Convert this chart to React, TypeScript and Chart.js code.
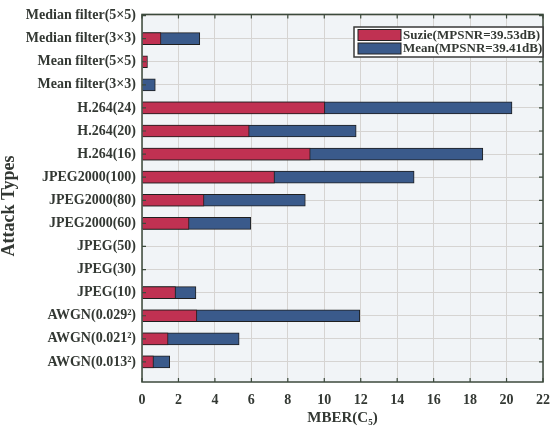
import { useEffect, useRef } from "react";
import { Chart, registerables } from "chart.js";

Chart.register(...registerables);

// Attack types, listed top to bottom
const attackTypes = [
  "Median filter(5×5)",
  "Median filter(3×3)",
  "Mean filter(5×5)",
  "Mean filter(3×3)",
  "H.264(24)",
  "H.264(20)",
  "H.264(16)",
  "JPEG2000(100)",
  "JPEG2000(80)",
  "JPEG2000(60)",
  "JPEG(50)",
  "JPEG(30)",
  "JPEG(10)",
  "AWGN(0.029²)",
  "AWGN(0.021²)",
  "AWGN(0.013²)",
];

// MBER(C5) per attack for the Suzie sequence
const suzieMber = [0, 1.04, 0.3, 0, 10.03, 5.88, 9.23, 7.27, 3.4, 2.58, 0, 0, 1.84, 3.01, 1.43, 0.63];
// Mean MBER(C5) over all sequences
const meanMber = [0, 3.17, 0, 0.73, 20.3, 11.75, 18.7, 14.93, 8.96, 5.97, 0, 0, 2.96, 11.95, 5.33, 1.52];

const xTicks = [0, 2, 4, 6, 8, 10, 12, 14, 16, 18, 20, 22];

const suzieLabel = "Suzie(MPSNR=39.53dB)";
const meanLabel = "Mean(MPSNR=39.41dB)";
const xTitle = "MBER(C₅)";
const yTitle = "Attack Types";

const RED = "#c03152";
const BLUE = "#3a5a8b";
const FRAME = "#3c4a3c";
const TEXT = "#333833";
const SERIF = "'Liberation Serif', 'Times New Roman', serif";

const plotFrame = {
  id: "plotFrame",
  beforeDatasetsDraw(chart: any) {
    const { ctx, chartArea } = chart;
    ctx.save();
    ctx.fillStyle = "#f1f4f7";
    ctx.globalCompositeOperation = "destination-over";
    ctx.fillRect(chartArea.left, chartArea.top, chartArea.right - chartArea.left, chartArea.bottom - chartArea.top);
    ctx.restore();
  },
  afterDraw(chart: any) {
    const { ctx, chartArea, scales } = chart;
    const { left, right, top, bottom } = chartArea;
    ctx.save();
    ctx.strokeStyle = FRAME;
    ctx.lineWidth = 1.5;
    ctx.strokeRect(left, top, right - left, bottom - top);
    // inward tick marks on all four sides
    ctx.lineWidth = 1.2;
    const t = 4;
    ctx.beginPath();
    xTicks.forEach((v) => {
      const x = scales.x.getPixelForValue(v);
      ctx.moveTo(x, bottom);
      ctx.lineTo(x, bottom - t);
      ctx.moveTo(x, top);
      ctx.lineTo(x, top + t);
    });
    attackTypes.forEach((_, i) => {
      const y = scales.y.getPixelForValue(i);
      ctx.moveTo(left, y);
      ctx.lineTo(left + t, y);
      ctx.moveTo(right, y);
      ctx.lineTo(right - t, y);
    });
    ctx.stroke();

    // y-axis title
    ctx.save();
    ctx.translate(9, 206);
    ctx.rotate(-Math.PI / 2);
    ctx.font = `bold 18px ${SERIF}`;
    ctx.fillStyle = TEXT;
    ctx.textAlign = "center";
    ctx.textBaseline = "middle";
    ctx.fillText(yTitle, 0, 0);
    ctx.restore();

    // legend box
    const bx = 354, by = 27, bw = 189, bh = 30;
    ctx.fillStyle = "#ffffff";
    ctx.fillRect(bx, by, bw, bh);
    ctx.strokeStyle = "#3a3a3a";
    ctx.lineWidth = 1.5;
    ctx.strokeRect(bx, by, bw, bh);
    ctx.font = `bold 13px ${SERIF}`;
    ctx.textBaseline = "middle";
    ctx.textAlign = "left";
    chart.data.datasets.forEach((ds: any, i: number) => {
      const cy = by + 8 + i * 13.5;
      ctx.fillStyle = ds.backgroundColor;
      ctx.fillRect(bx + 4, cy - 5.5, 43, 11);
      ctx.strokeStyle = "#222";
      ctx.lineWidth = 1;
      ctx.strokeRect(bx + 4, cy - 5.5, 43, 11);
      ctx.fillStyle = TEXT;
      ctx.fillText(ds.label, bx + 49, cy + 0.5);
    });
    ctx.restore();
  },
};

export default function App() {
  const canvasRef = useRef<HTMLCanvasElement | null>(null);

  useEffect(() => {
    if (!canvasRef.current) return;
    const chart = new Chart(canvasRef.current, {
      type: "bar",
      data: {
        datasets: [
          {
            label: suzieLabel,
            data: suzieMber.map((v, i) => ({ x: v, y: i })),
            backgroundColor: RED,
            borderColor: "#1f1f1f",
            borderWidth: 1,
            barThickness: 12,
            grouped: false,
          } as any,
          {
            label: meanLabel,
            data: meanMber.map((v, i) => ({ x: v, y: i })),
            backgroundColor: BLUE,
            borderColor: "#1f1f1f",
            borderWidth: 1,
            barThickness: 12,
            grouped: false,
          } as any,
        ],
      },
      options: {
        indexAxis: "y",
        animation: false,
        responsive: false,
        maintainAspectRatio: false,
        layout: { padding: { top: 14, right: 6, left: 0, bottom: 0 } },
        plugins: {
          legend: { display: false },
          tooltip: { enabled: false },
        },
        scales: {
          x: {
            type: "linear",
            min: 0,
            max: 22,
            afterBuildTicks: (scale: any) => {
              scale.ticks = xTicks.map((v) => ({ value: v }));
            },
            afterFit: (scale: any) => {
              scale.height = 50;
            },
            grid: { color: "#d6d4d2", lineWidth: 1, drawTicks: false },
            border: { display: false },
            ticks: {
              padding: 10,
              color: TEXT,
              font: { family: SERIF, size: 14, weight: "bold" },
            },
            title: {
              display: true,
              text: xTitle,
              color: TEXT,
              font: { family: SERIF, size: 15, weight: "bold" },
              padding: { top: 0, bottom: 5 },
            },
          },
          y: {
            type: "linear",
            reverse: true,
            offset: false,
            min: -0.05,
            max: 15.87,
            afterBuildTicks: (scale: any) => {
              scale.ticks = attackTypes.map((_, i) => ({ value: i }));
            },
            afterFit: (scale: any) => {
              scale.width = 142;
            },
            grid: { color: "#d6d4d2", lineWidth: 1, drawTicks: false, offset: false },
            border: { display: false },
            ticks: {
              padding: 6,
              color: TEXT,
              autoSkip: false,
              font: { family: SERIF, size: 14, weight: "bold" },
              callback: (v: any) => attackTypes[Math.round(Number(v))] ?? "",
            },
          },
        },
      },
      plugins: [plotFrame],
    } as any);
    return () => chart.destroy();
  }, []);

  return (
    <div style={{ position: "absolute", left: 0, top: 0, width: 560, height: 432, background: "#ffffff" }}>
      <canvas ref={canvasRef} width={560} height={432} style={{ display: "block", width: 560, height: 432 }} />
    </div>
  );
}
